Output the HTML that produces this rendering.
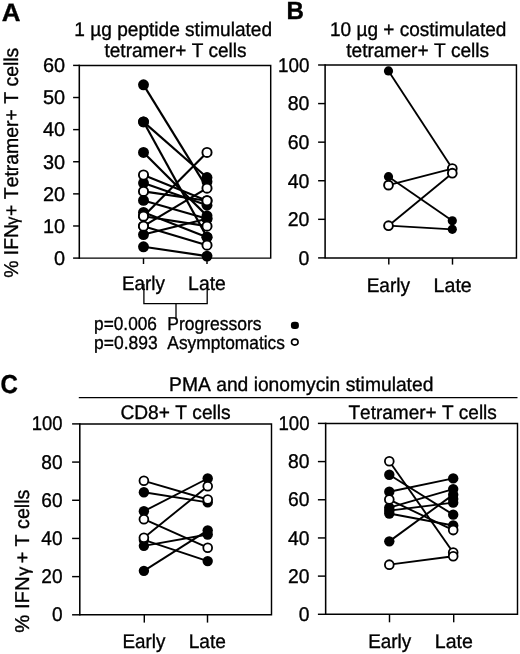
<!DOCTYPE html>
<html><head><meta charset="utf-8"><title>Figure</title>
<style>
html,body{margin:0;padding:0;background:#fff;}
body{width:520px;height:654px;overflow:hidden;}
svg{display:block;will-change:transform;filter:grayscale(1);}
svg text{font-family:"Liberation Sans", sans-serif;fill:#000;stroke:#000;stroke-width:0.35px;text-rendering:geometricPrecision;font-kerning:none;font-variant-ligatures:none;}
</style></head>
<body>
<svg width="520" height="654" viewBox="0 0 520 654">
<rect x="0" y="0" width="520" height="654" fill="#fff"/>
<path d="M79.3 65.4 H270.7 V258.1 H79.3" fill="none" stroke="#000" stroke-width="1.45" stroke-linejoin="miter"/>
<line x1="79.3" y1="64.68" x2="79.3" y2="258.83" stroke="#000" stroke-width="1.55"/>
<line x1="73.1" y1="258.10" x2="79.3" y2="258.10" stroke="#000" stroke-width="1.45"/>
<text transform="translate(54.01,264.90) scale(1.0000,1)" font-size="19.9">0</text>
<line x1="73.1" y1="225.98" x2="79.3" y2="225.98" stroke="#000" stroke-width="1.45"/>
<text transform="translate(42.94,232.78) scale(1.0000,1)" font-size="19.9">10</text>
<line x1="73.1" y1="193.87" x2="79.3" y2="193.87" stroke="#000" stroke-width="1.45"/>
<text transform="translate(42.94,200.67) scale(1.0000,1)" font-size="19.9">20</text>
<line x1="73.1" y1="161.75" x2="79.3" y2="161.75" stroke="#000" stroke-width="1.45"/>
<text transform="translate(42.94,168.55) scale(1.0000,1)" font-size="19.9">30</text>
<line x1="73.1" y1="129.63" x2="79.3" y2="129.63" stroke="#000" stroke-width="1.45"/>
<text transform="translate(42.94,136.43) scale(1.0000,1)" font-size="19.9">40</text>
<line x1="73.1" y1="97.52" x2="79.3" y2="97.52" stroke="#000" stroke-width="1.45"/>
<text transform="translate(42.94,104.32) scale(1.0000,1)" font-size="19.9">50</text>
<line x1="73.1" y1="65.40" x2="79.3" y2="65.40" stroke="#000" stroke-width="1.45"/>
<text transform="translate(42.94,72.20) scale(1.0000,1)" font-size="19.9">60</text>
<line x1="143.5" y1="258.1" x2="143.5" y2="264.0" stroke="#000" stroke-width="1.45"/>
<line x1="207.0" y1="258.1" x2="207.0" y2="264.0" stroke="#000" stroke-width="1.45"/>
<line x1="143.5" y1="121.85" x2="207.0" y2="177.56" stroke="#000" stroke-width="2.15"/>
<line x1="143.5" y1="121.85" x2="207.0" y2="237.13" stroke="#000" stroke-width="2.15"/>
<line x1="143.5" y1="152.44" x2="207.0" y2="215.87" stroke="#000" stroke-width="2.15"/>
<line x1="143.5" y1="183.03" x2="207.0" y2="205.25" stroke="#000" stroke-width="2.15"/>
<line x1="143.5" y1="200.42" x2="207.0" y2="218.77" stroke="#000" stroke-width="2.15"/>
<line x1="143.5" y1="212.33" x2="207.0" y2="237.13" stroke="#000" stroke-width="2.15"/>
<line x1="143.5" y1="234.55" x2="207.0" y2="218.77" stroke="#000" stroke-width="2.15"/>
<line x1="143.5" y1="246.79" x2="207.0" y2="256.12" stroke="#000" stroke-width="2.15"/>
<line x1="143.5" y1="174.98" x2="207.0" y2="200.74" stroke="#000" stroke-width="2.15"/>
<line x1="143.5" y1="191.40" x2="207.0" y2="200.74" stroke="#000" stroke-width="2.15"/>
<line x1="143.5" y1="216.20" x2="207.0" y2="152.44" stroke="#000" stroke-width="2.15"/>
<line x1="143.5" y1="216.20" x2="207.0" y2="226.18" stroke="#000" stroke-width="2.15"/>
<line x1="143.5" y1="226.18" x2="207.0" y2="188.18" stroke="#000" stroke-width="2.15"/>
<line x1="143.5" y1="226.18" x2="207.0" y2="245.18" stroke="#000" stroke-width="2.15"/>
<line x1="143.5" y1="84.82" x2="207.0" y2="187.86" stroke="#000" stroke-width="2.15"/>
<circle cx="143.5" cy="121.85" r="5.45" fill="#000"/>
<circle cx="143.5" cy="121.85" r="5.45" fill="#000"/>
<circle cx="143.5" cy="152.44" r="5.45" fill="#000"/>
<circle cx="143.5" cy="183.03" r="5.45" fill="#000"/>
<circle cx="143.5" cy="200.42" r="5.45" fill="#000"/>
<circle cx="143.5" cy="212.33" r="5.45" fill="#000"/>
<circle cx="143.5" cy="234.55" r="5.45" fill="#000"/>
<circle cx="143.5" cy="246.79" r="5.45" fill="#000"/>
<circle cx="207.0" cy="177.56" r="5.45" fill="#000"/>
<circle cx="207.0" cy="237.13" r="5.45" fill="#000"/>
<circle cx="207.0" cy="215.87" r="5.45" fill="#000"/>
<circle cx="207.0" cy="205.25" r="5.45" fill="#000"/>
<circle cx="207.0" cy="218.77" r="5.45" fill="#000"/>
<circle cx="207.0" cy="237.13" r="5.45" fill="#000"/>
<circle cx="207.0" cy="218.77" r="5.45" fill="#000"/>
<circle cx="207.0" cy="256.12" r="5.45" fill="#000"/>
<circle cx="143.5" cy="84.82" r="5.45" fill="#000"/>
<circle cx="207.0" cy="181.74" r="5.45" fill="#000"/>
<circle cx="143.5" cy="174.98" r="4.6" fill="#fff" stroke="#000" stroke-width="1.9"/>
<circle cx="143.5" cy="191.40" r="4.6" fill="#fff" stroke="#000" stroke-width="1.9"/>
<circle cx="143.5" cy="216.20" r="4.6" fill="#fff" stroke="#000" stroke-width="1.9"/>
<circle cx="143.5" cy="216.20" r="4.6" fill="#fff" stroke="#000" stroke-width="1.9"/>
<circle cx="143.5" cy="226.18" r="4.6" fill="#fff" stroke="#000" stroke-width="1.9"/>
<circle cx="143.5" cy="226.18" r="4.6" fill="#fff" stroke="#000" stroke-width="1.9"/>
<circle cx="207.0" cy="200.74" r="4.6" fill="#fff" stroke="#000" stroke-width="1.9"/>
<circle cx="207.0" cy="200.74" r="4.6" fill="#fff" stroke="#000" stroke-width="1.9"/>
<circle cx="207.0" cy="152.44" r="4.6" fill="#fff" stroke="#000" stroke-width="1.9"/>
<circle cx="207.0" cy="226.18" r="4.6" fill="#fff" stroke="#000" stroke-width="1.9"/>
<circle cx="207.0" cy="188.18" r="4.6" fill="#fff" stroke="#000" stroke-width="1.9"/>
<circle cx="207.0" cy="245.18" r="4.6" fill="#fff" stroke="#000" stroke-width="1.9"/>
<path d="M325.1 65.0 H516.45 V257.9 H325.1" fill="none" stroke="#000" stroke-width="1.45" stroke-linejoin="miter"/>
<line x1="325.1" y1="64.28" x2="325.1" y2="258.62" stroke="#000" stroke-width="1.55"/>
<line x1="318.1" y1="257.90" x2="325.1" y2="257.90" stroke="#000" stroke-width="1.45"/>
<text transform="translate(298.62,264.70) scale(0.9800,1)" font-size="19.9">0</text>
<line x1="318.1" y1="219.32" x2="325.1" y2="219.32" stroke="#000" stroke-width="1.45"/>
<text transform="translate(287.77,226.12) scale(0.9800,1)" font-size="19.9">20</text>
<line x1="318.1" y1="180.74" x2="325.1" y2="180.74" stroke="#000" stroke-width="1.45"/>
<text transform="translate(287.77,187.54) scale(0.9800,1)" font-size="19.9">40</text>
<line x1="318.1" y1="142.16" x2="325.1" y2="142.16" stroke="#000" stroke-width="1.45"/>
<text transform="translate(287.77,148.96) scale(0.9800,1)" font-size="19.9">60</text>
<line x1="318.1" y1="103.58" x2="325.1" y2="103.58" stroke="#000" stroke-width="1.45"/>
<text transform="translate(287.77,110.38) scale(0.9800,1)" font-size="19.9">80</text>
<line x1="318.1" y1="65.00" x2="325.1" y2="65.00" stroke="#000" stroke-width="1.45"/>
<text transform="translate(278.04,71.80) scale(0.9457,1)" font-size="19.9">100</text>
<line x1="388.8" y1="257.9" x2="388.8" y2="264.6" stroke="#000" stroke-width="1.45"/>
<line x1="452.5" y1="257.9" x2="452.5" y2="264.6" stroke="#000" stroke-width="1.45"/>
<line x1="388.5" y1="70.89" x2="452.3" y2="168.55" stroke="#000" stroke-width="1.85"/>
<line x1="388.5" y1="176.65" x2="452.3" y2="220.85" stroke="#000" stroke-width="1.85"/>
<line x1="388.5" y1="225.68" x2="452.3" y2="229.34" stroke="#000" stroke-width="1.85"/>
<line x1="388.5" y1="185.15" x2="452.3" y2="168.55" stroke="#000" stroke-width="1.85"/>
<line x1="388.5" y1="225.68" x2="452.3" y2="173.18" stroke="#000" stroke-width="1.85"/>
<circle cx="388.5" cy="70.89" r="4.6" fill="#000"/>
<circle cx="388.5" cy="176.65" r="4.6" fill="#000"/>
<circle cx="388.5" cy="225.68" r="4.6" fill="#000"/>
<circle cx="452.3" cy="168.55" r="4.6" fill="#000"/>
<circle cx="452.3" cy="220.85" r="4.6" fill="#000"/>
<circle cx="452.3" cy="229.34" r="4.6" fill="#000"/>
<circle cx="388.5" cy="185.15" r="4.4" fill="#fff" stroke="#000" stroke-width="1.9"/>
<circle cx="388.5" cy="225.68" r="4.4" fill="#fff" stroke="#000" stroke-width="1.9"/>
<circle cx="452.3" cy="168.55" r="4.4" fill="#fff" stroke="#000" stroke-width="1.9"/>
<circle cx="452.3" cy="173.18" r="4.4" fill="#fff" stroke="#000" stroke-width="1.9"/>
<path d="M79.8 423.9 H271.5 V614.8 H79.8" fill="none" stroke="#000" stroke-width="1.45" stroke-linejoin="miter"/>
<line x1="79.8" y1="423.17" x2="79.8" y2="615.52" stroke="#000" stroke-width="1.55"/>
<line x1="72.1" y1="614.80" x2="79.8" y2="614.80" stroke="#000" stroke-width="1.45"/>
<text transform="translate(51.92,621.30) scale(0.9600,1)" font-size="19.9">0</text>
<line x1="72.1" y1="576.62" x2="79.8" y2="576.62" stroke="#000" stroke-width="1.45"/>
<text transform="translate(41.30,583.12) scale(0.9600,1)" font-size="19.9">20</text>
<line x1="72.1" y1="538.44" x2="79.8" y2="538.44" stroke="#000" stroke-width="1.45"/>
<text transform="translate(41.30,544.94) scale(0.9600,1)" font-size="19.9">40</text>
<line x1="72.1" y1="500.26" x2="79.8" y2="500.26" stroke="#000" stroke-width="1.45"/>
<text transform="translate(41.30,506.76) scale(0.9600,1)" font-size="19.9">60</text>
<line x1="72.1" y1="462.08" x2="79.8" y2="462.08" stroke="#000" stroke-width="1.45"/>
<text transform="translate(41.30,468.58) scale(0.9600,1)" font-size="19.9">80</text>
<line x1="72.1" y1="423.90" x2="79.8" y2="423.90" stroke="#000" stroke-width="1.45"/>
<text transform="translate(31.76,430.40) scale(0.9264,1)" font-size="19.9">100</text>
<line x1="144.3" y1="614.8" x2="144.3" y2="622.6" stroke="#000" stroke-width="1.45"/>
<line x1="207.5" y1="614.8" x2="207.5" y2="622.6" stroke="#000" stroke-width="1.45"/>
<line x1="143.9" y1="492.27" x2="207.7" y2="502.40" stroke="#000" stroke-width="1.9"/>
<line x1="143.9" y1="511.20" x2="207.7" y2="478.50" stroke="#000" stroke-width="1.9"/>
<line x1="143.9" y1="545.82" x2="207.7" y2="534.53" stroke="#000" stroke-width="1.9"/>
<line x1="143.9" y1="539.89" x2="207.7" y2="561.12" stroke="#000" stroke-width="1.9"/>
<line x1="143.9" y1="570.87" x2="207.7" y2="530.33" stroke="#000" stroke-width="1.9"/>
<line x1="143.9" y1="480.79" x2="207.7" y2="499.53" stroke="#000" stroke-width="1.9"/>
<line x1="143.9" y1="519.23" x2="207.7" y2="547.73" stroke="#000" stroke-width="1.9"/>
<line x1="143.9" y1="537.78" x2="207.7" y2="486.15" stroke="#000" stroke-width="1.9"/>
<circle cx="143.9" cy="492.27" r="5.2" fill="#000"/>
<circle cx="143.9" cy="511.20" r="5.2" fill="#000"/>
<circle cx="143.9" cy="545.82" r="5.2" fill="#000"/>
<circle cx="143.9" cy="539.89" r="5.2" fill="#000"/>
<circle cx="143.9" cy="570.87" r="5.2" fill="#000"/>
<circle cx="207.7" cy="502.40" r="5.2" fill="#000"/>
<circle cx="207.7" cy="478.50" r="5.2" fill="#000"/>
<circle cx="207.7" cy="534.53" r="5.2" fill="#000"/>
<circle cx="207.7" cy="561.12" r="5.2" fill="#000"/>
<circle cx="207.7" cy="530.33" r="5.2" fill="#000"/>
<circle cx="143.9" cy="480.79" r="4.4" fill="#fff" stroke="#000" stroke-width="1.8"/>
<circle cx="143.9" cy="519.23" r="4.4" fill="#fff" stroke="#000" stroke-width="1.8"/>
<circle cx="143.9" cy="537.78" r="4.4" fill="#fff" stroke="#000" stroke-width="1.8"/>
<circle cx="207.7" cy="499.53" r="4.4" fill="#fff" stroke="#000" stroke-width="1.8"/>
<circle cx="207.7" cy="547.73" r="4.4" fill="#fff" stroke="#000" stroke-width="1.8"/>
<circle cx="207.7" cy="486.15" r="4.4" fill="#fff" stroke="#000" stroke-width="1.8"/>
<path d="M325.65 423.4 H517.5 V614.3 H325.65" fill="none" stroke="#000" stroke-width="1.45" stroke-linejoin="miter"/>
<line x1="325.65" y1="422.67" x2="325.65" y2="615.02" stroke="#000" stroke-width="1.55"/>
<line x1="317.9" y1="614.30" x2="325.65" y2="614.30" stroke="#000" stroke-width="1.45"/>
<text transform="translate(298.82,620.90) scale(0.9700,1)" font-size="19.9">0</text>
<line x1="317.9" y1="576.12" x2="325.65" y2="576.12" stroke="#000" stroke-width="1.45"/>
<text transform="translate(288.08,582.72) scale(0.9700,1)" font-size="19.9">20</text>
<line x1="317.9" y1="537.94" x2="325.65" y2="537.94" stroke="#000" stroke-width="1.45"/>
<text transform="translate(288.08,544.54) scale(0.9700,1)" font-size="19.9">40</text>
<line x1="317.9" y1="499.76" x2="325.65" y2="499.76" stroke="#000" stroke-width="1.45"/>
<text transform="translate(288.08,506.36) scale(0.9700,1)" font-size="19.9">60</text>
<line x1="317.9" y1="461.58" x2="325.65" y2="461.58" stroke="#000" stroke-width="1.45"/>
<text transform="translate(288.08,468.18) scale(0.9700,1)" font-size="19.9">80</text>
<line x1="317.9" y1="423.40" x2="325.65" y2="423.40" stroke="#000" stroke-width="1.45"/>
<text transform="translate(278.45,430.00) scale(0.9360,1)" font-size="19.9">100</text>
<line x1="389.5" y1="614.3" x2="389.5" y2="622.3" stroke="#000" stroke-width="1.45"/>
<line x1="453.7" y1="614.3" x2="453.7" y2="622.3" stroke="#000" stroke-width="1.45"/>
<line x1="389.3" y1="474.80" x2="453.2" y2="514.67" stroke="#000" stroke-width="1.9"/>
<line x1="389.3" y1="491.78" x2="453.2" y2="478.42" stroke="#000" stroke-width="1.9"/>
<line x1="389.3" y1="507.61" x2="453.2" y2="489.11" stroke="#000" stroke-width="1.9"/>
<line x1="389.3" y1="510.66" x2="453.2" y2="502.65" stroke="#000" stroke-width="1.9"/>
<line x1="389.3" y1="513.52" x2="453.2" y2="525.54" stroke="#000" stroke-width="1.9"/>
<line x1="389.3" y1="541.37" x2="453.2" y2="494.64" stroke="#000" stroke-width="1.9"/>
<line x1="389.3" y1="461.26" x2="453.2" y2="552.43" stroke="#000" stroke-width="1.9"/>
<line x1="389.3" y1="499.60" x2="453.2" y2="530.12" stroke="#000" stroke-width="1.9"/>
<line x1="389.3" y1="564.64" x2="453.2" y2="556.25" stroke="#000" stroke-width="1.9"/>
<circle cx="389.3" cy="474.80" r="5.2" fill="#000"/>
<circle cx="389.3" cy="491.78" r="5.2" fill="#000"/>
<circle cx="389.3" cy="507.61" r="5.2" fill="#000"/>
<circle cx="389.3" cy="510.66" r="5.2" fill="#000"/>
<circle cx="389.3" cy="513.52" r="5.2" fill="#000"/>
<circle cx="389.3" cy="541.37" r="5.2" fill="#000"/>
<circle cx="453.2" cy="514.67" r="5.2" fill="#000"/>
<circle cx="453.2" cy="478.42" r="5.2" fill="#000"/>
<circle cx="453.2" cy="489.11" r="5.2" fill="#000"/>
<circle cx="453.2" cy="502.65" r="5.2" fill="#000"/>
<circle cx="453.2" cy="525.54" r="5.2" fill="#000"/>
<circle cx="453.2" cy="494.64" r="5.2" fill="#000"/>
<circle cx="453.2" cy="499.02" r="5.2" fill="#000"/>
<circle cx="389.3" cy="461.26" r="4.4" fill="#fff" stroke="#000" stroke-width="1.8"/>
<circle cx="389.3" cy="499.60" r="4.4" fill="#fff" stroke="#000" stroke-width="1.8"/>
<circle cx="389.3" cy="564.64" r="4.4" fill="#fff" stroke="#000" stroke-width="1.8"/>
<circle cx="453.2" cy="552.43" r="4.4" fill="#fff" stroke="#000" stroke-width="1.8"/>
<circle cx="453.2" cy="530.12" r="4.4" fill="#fff" stroke="#000" stroke-width="1.8"/>
<circle cx="453.2" cy="556.25" r="4.4" fill="#fff" stroke="#000" stroke-width="1.8"/>
<text transform="translate(121.95,290.00) scale(0.9529,1)" font-size="19.8">Early</text>
<text transform="translate(188.11,290.00) scale(0.9797,1)" font-size="19.8">Late</text>
<text transform="translate(366.64,291.60) scale(0.9621,1)" font-size="19.8">Early</text>
<text transform="translate(433.59,291.60) scale(0.9908,1)" font-size="19.8">Late</text>
<text transform="translate(122.45,648.20) scale(0.9529,1)" font-size="19.8">Early</text>
<text transform="translate(188.63,648.20) scale(0.9658,1)" font-size="19.8">Late</text>
<text transform="translate(368.15,648.20) scale(0.9552,1)" font-size="19.8">Early</text>
<text transform="translate(434.80,648.20) scale(0.9880,1)" font-size="19.8">Late</text>
<text transform="translate(74.35,35.80) scale(0.9647,1)" font-size="19.8">1 µg peptide stimulated</text>
<text transform="translate(104.51,57.00) scale(0.9607,1)" font-size="19.8">tetramer+ T cells</text>
<text transform="translate(330.05,35.80) scale(0.9609,1)" font-size="19.8">10 µg + costimulated</text>
<text transform="translate(346.21,56.50) scale(0.9668,1)" font-size="19.8">tetramer+ T cells</text>
<text transform="translate(1.65,20.80) scale(1.0292,1)" font-size="25.2" font-weight="bold">A</text>
<text transform="translate(286.49,19.20) scale(0.9719,1)" font-size="24.8" font-weight="bold">B</text>
<text transform="translate(0.42,392.80) scale(0.9236,1)" font-size="26" font-weight="bold">C</text>
<text transform="translate(17.90,277.79) rotate(-90) scale(0.9697,1)" font-size="20">% IFN</text>
<text transform="translate(17.90,224.66) rotate(-90) scale(0.9270,1)" font-size="17.5">γ</text>
<text transform="translate(17.90,215.95) rotate(-90) scale(0.9704,1)" font-size="20">+ Tetramer+ T cells</text>
<text transform="translate(28.60,632.72) rotate(-90) scale(1.0148,1)" font-size="20">% IFN</text>
<text transform="translate(28.60,575.86) rotate(-90) scale(1.0428,1)" font-size="17.5">γ</text>
<text transform="translate(28.60,563.36) rotate(-90) scale(0.9834,1)" font-size="20">+ T cells</text>
<path d="M143.9 284 V303.6 H207.2 V284 M176.0 303.6 V319.5" fill="none" stroke="#000" stroke-width="1.3"/>
<text transform="translate(94.09,330.00) scale(0.9280,1)" font-size="18.6">p=0.006</text>
<text transform="translate(167.37,329.80) scale(0.9402,1)" font-size="18.6">Progressors</text>
<text transform="translate(94.07,349.40) scale(0.9386,1)" font-size="18.6">p=0.893</text>
<text transform="translate(167.37,349.20) scale(0.9323,1)" font-size="18.6">Asymptomatics</text>
<rect x="290.9" y="321.8" width="8" height="7.2" rx="3.2" ry="3.2" fill="#000"/>
<ellipse cx="294.8" cy="342.1" rx="3.3" ry="3.0" fill="#fff" stroke="#000" stroke-width="1.6"/>
<text transform="translate(169.12,391.30) scale(0.9777,1)" font-size="19.7">PMA and ionomycin stimulated</text>
<line x1="78.8" y1="397.7" x2="517.5" y2="397.7" stroke="#000" stroke-width="1.3"/>
<text transform="translate(120.43,418.60) scale(0.9782,1)" font-size="19.6">CD8+ T cells</text>
<text transform="translate(348.47,418.60) scale(0.9699,1)" font-size="19.6">Tetramer+ T cells</text>
</svg>
</body></html>
